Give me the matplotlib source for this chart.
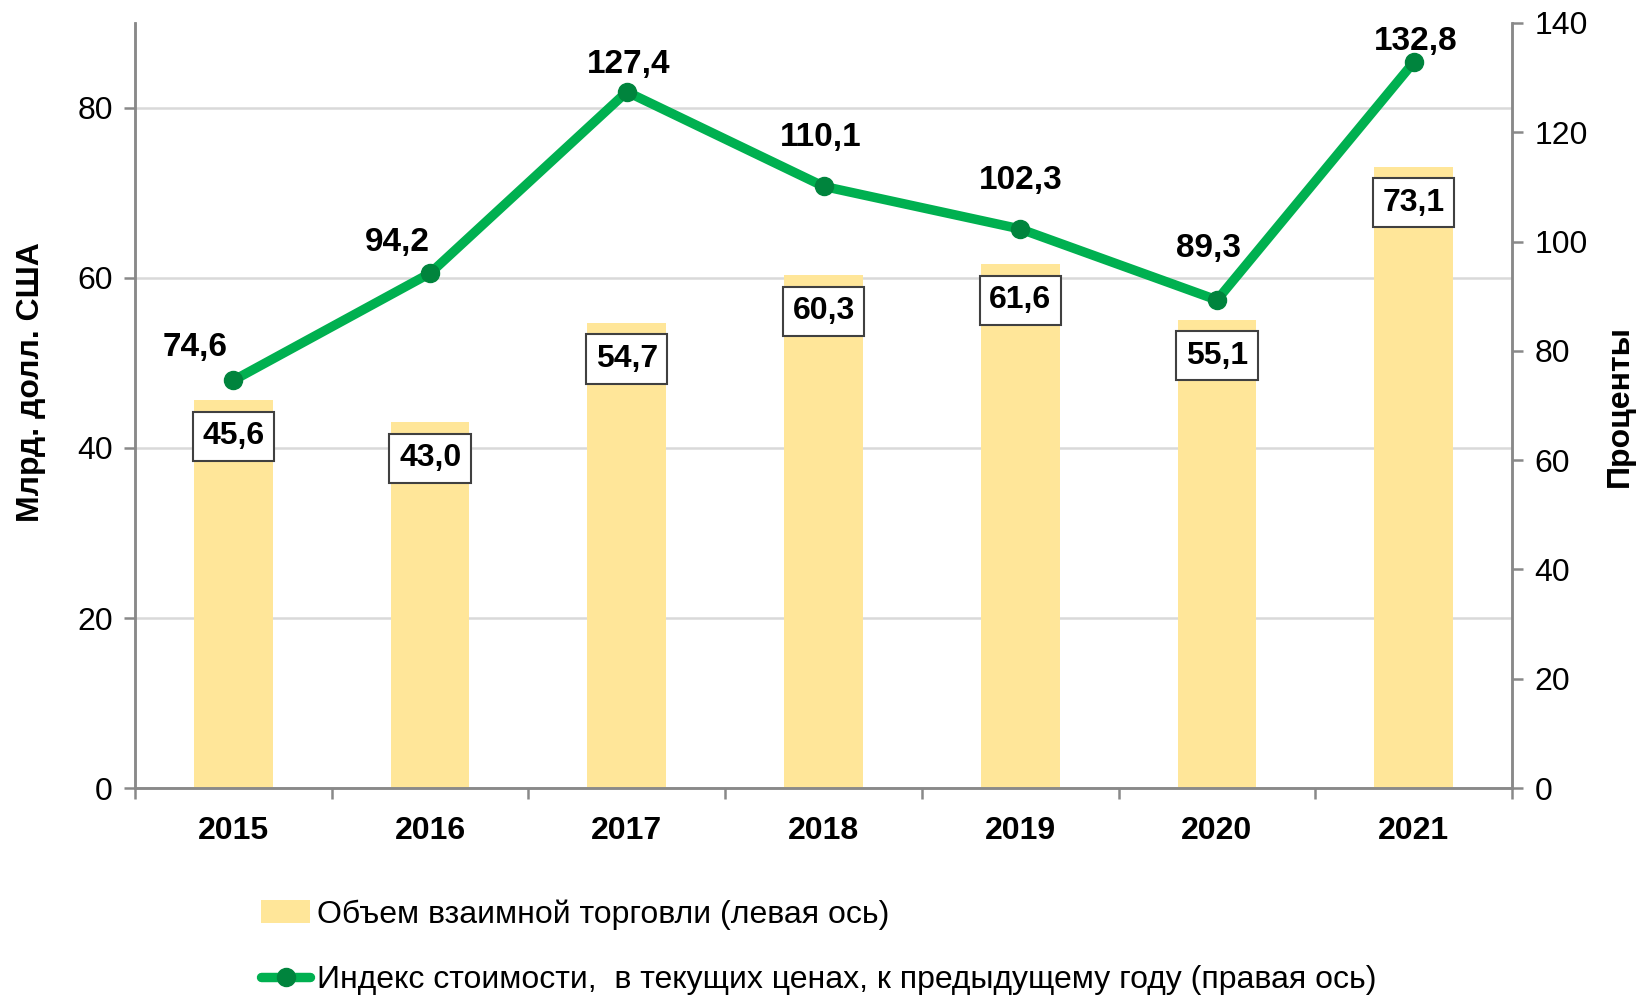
import matplotlib.pyplot as plt
import numpy as np

plt.rcParams['font.family'] = ['Liberation Sans', 'DejaVu Sans']

years = ['2015', '2016', '2017', '2018', '2019', '2020', '2021']
trade_volume = [45.6, 43.0, 54.7, 60.3, 61.6, 55.1, 73.1]
value_index = [74.6, 94.2, 127.4, 110.1, 102.3, 89.3, 132.8]

bar_label = 'Объем взаимной торговли (левая ось)'
line_label = 'Индекс стоимости,  в текущих ценах, к предыдущему году (правая ось)'

# label offsets for the line values (pixels, x right / y up)
line_offsets = [(-38, 33), (-33, 31), (2, 27), (-3, 49), (0, 48), (-8, 52), (2, 21)]

grey = '#898989'

fig = plt.figure(figsize=(16.43, 9.98), dpi=100)
ax = fig.add_axes([0.0822, 0.2104, 0.8381, 0.7666])
ax2 = ax.twinx()

x = np.arange(len(years))
bars = ax.bar(x, trade_volume, width=0.4, color='#FFE699', zorder=2)
line, = ax2.plot(x, value_index, color='#00B050', lw=6.8, marker='o', ms=13,
                 mfc='#00843D', mec='#00843D', solid_capstyle='round', zorder=3)

ax.set_xlim(-0.5, len(years) - 0.5)
ax.set_ylim(0, 90)
ax2.set_ylim(0, 140)
ax.set_yticks([0, 20, 40, 60, 80])
ax2.set_yticks(range(0, 141, 20))
ax.yaxis.grid(True, color='#D9D9D9', lw=1.8, zorder=0)
ax.set_axisbelow(True)

ax.set_xticks(x)
ax.set_xticklabels(years, fontsize=23, fontweight='bold')
ax.set_xticks(np.arange(-0.5, len(years)), minor=True)
ax.tick_params(axis='x', which='major', length=0, pad=20)
ax.tick_params(axis='x', which='minor', length=8, width=1.8, color=grey)
ax.tick_params(axis='y', length=8, width=1.8, color=grey, labelsize=23, pad=8)
ax2.tick_params(axis='y', length=8, width=1.8, color=grey, labelsize=23, pad=8)

for a in (ax, ax2):
    a.spines['top'].set_visible(False)
    for s in ('left', 'right', 'bottom'):
        a.spines[s].set_color(grey)
        a.spines[s].set_linewidth(1.8)

fig.text(0.019, 0.617, 'Млрд. долл. США', fontsize=23, fontweight='bold',
         rotation=90, ha='center', va='center')
fig.text(0.986, 0.593, 'Проценты', fontsize=23, fontweight='bold',
         rotation=90, ha='center', va='center')

px = 72 / fig.dpi
for xi, v in zip(x, trade_volume):
    ax.annotate(f'{v:.1f}'.replace('.', ','), (xi, v), xytext=(0, -36 * px),
                textcoords='offset points', ha='center', va='center',
                fontsize=23, fontweight='bold', zorder=4,
                bbox=dict(boxstyle='square,pad=0.3', fc='white', ec='#404040', lw=1.5))

for xi, v, (dx, dy) in zip(x, value_index, line_offsets):
    ax2.annotate(f'{v:.1f}'.replace('.', ','), (xi, v), xytext=(dx * px, dy * px),
                 textcoords='offset points', ha='center', va='center',
                 fontsize=24, fontweight='bold', zorder=5)

fig.legend([bars, line], [bar_label, line_label], loc='upper left',
           bbox_to_anchor=(0.149, 0.115), frameon=False, fontsize=23,
           handlelength=1.55, handletextpad=0.2, labelspacing=1.1, borderpad=0)

fig.savefig('out.png', dpi=100)
